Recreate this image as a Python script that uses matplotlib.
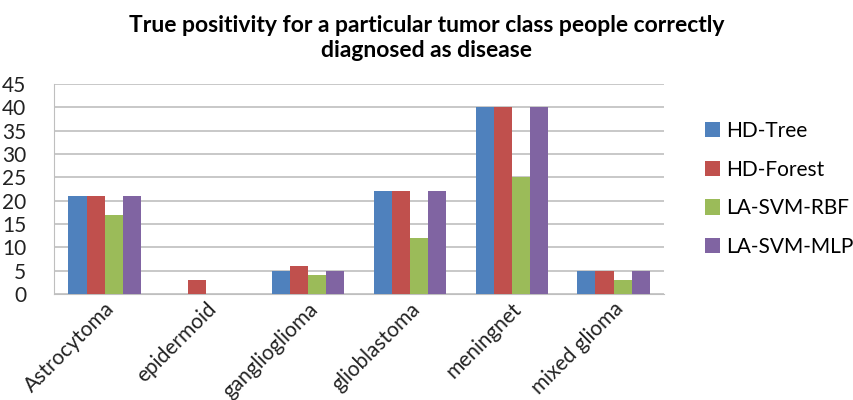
import matplotlib.pyplot as plt
import numpy as np

# true positive counts per tumour class
classes = ['Astrocytoma', 'epidermoid', 'ganglioglioma', 'glioblastoma', 'meningnet', 'mixed glioma']
hd_tree = [21, 0, 5, 22, 40, 5]
hd_forest = [21, 3, 6, 22, 40, 5]
la_svm_rbf = [17, 0, 4, 12, 25, 3]
la_svm_mlp = [21, 0, 5, 22, 40, 5]

series = [
    ('HD-Tree', hd_tree, '#4F81BD'),
    ('HD-Forest', hd_forest, '#C0504D'),
    ('LA-SVM-RBF', la_svm_rbf, '#9BBB59'),
    ('LA-SVM-MLP', la_svm_mlp, '#8064A2'),
]

plt.rcParams['font.family'] = ['Lato', 'DejaVu Sans']

fig = plt.figure(figsize=(8.54, 4.0), dpi=100)
ax = fig.add_axes([0.063, 0.265, 0.715, 0.525])

x = np.arange(len(classes))
w = 0.178
for i, (name, vals, col) in enumerate(series):
    ax.bar(x + (i - 1.5) * w, vals, w, color=col, label=name, zorder=3)

ax.set_xlim(-0.5, len(classes) - 0.5)
ax.set_ylim(0, 45)
ax.set_yticks(range(0, 46, 5))
ax.yaxis.grid(True, color='#bfbfbf', linewidth=1.2, zorder=0)
for s in ['top', 'right']:
    ax.spines[s].set_visible(False)
ax.spines['left'].set_color('#bfbfbf')
ax.spines['bottom'].set_color('#bfbfbf')
ax.tick_params(axis='both', length=0, colors='#222222')
ax.tick_params(axis='y', labelsize=15, pad=20)
ax.set_xticks(x)
ax.set_xticklabels(classes, rotation=45, ha='right', rotation_mode='anchor', fontsize=15)

fig.text(0.5, 0.962, 'True positivity for a particular tumor class people correctly\ndiagnosed as disease',
         ha='center', va='top', fontsize=16.5, fontweight='bold', linespacing=1.2)

ax.legend(loc='center left', bbox_to_anchor=(1.035, 0.5), frameon=False, fontsize=15,
          handlelength=0.75, handleheight=0.75, handletextpad=0.3, labelspacing=0.9)

fig.savefig('out.png', dpi=100)
